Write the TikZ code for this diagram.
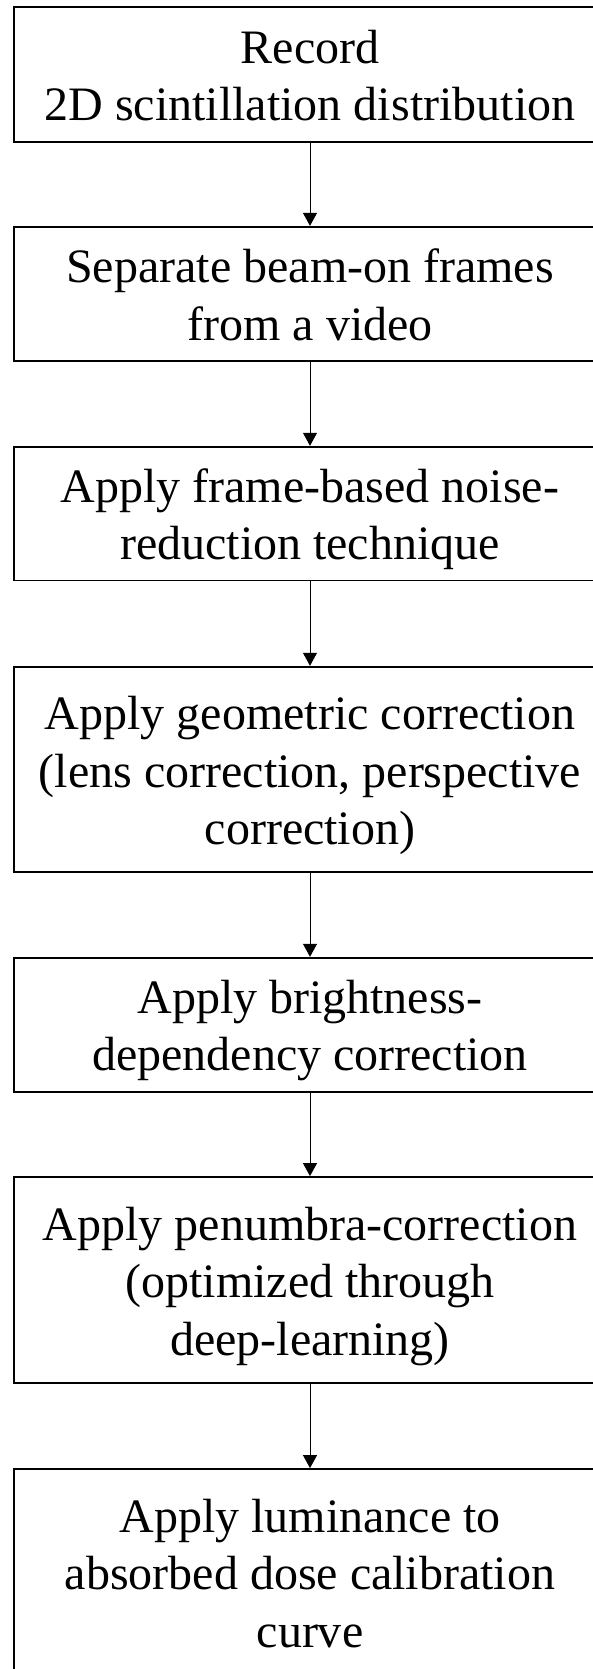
\documentclass[tikz,border=0pt]{standalone}
\usepackage{fontspec}
\setmainfont{Liberation Serif}
\usetikzlibrary{arrows.meta}

% Centered multi-line step text; #1 = depth below the first baseline
\newcommand{\flowlines}[2]{\raisebox{0pt}[35pt][#1]{\parbox[t]{590pt}{\centering\fontsize{48pt}{57.5pt}\selectfont #2}}}

\begin{document}
\begin{tikzpicture}[x=1pt,y=1pt,
  stepbox/.style={draw=black, line width=1.8pt, minimum width=592pt, inner sep=0pt},
  flow/.style={-{Triangle[length=13pt,width=14pt]}, line width=1pt, draw=black}]
\clip (0,0) rectangle (593,-1669);
\fill[white] (0,0) rectangle (593,-1669);

\node[stepbox, minimum height=134.4pt] (b1) at (310,-74.5)
  {\flowlines{57.5pt}{Record\\2D scintillation distribution}};
\node[stepbox, minimum height=134.3pt] (b2) at (310,-293.9)
  {\flowlines{57.5pt}{Separate beam-on frames\\from a video}};
\node[stepbox, minimum height=133.8pt] (b3) at (310,-513.6)
  {\flowlines{57.5pt}{Apply frame-based noise-\\reduction technique}};
\node[stepbox, minimum height=205.6pt] (b4) at (310,-769.5)
  {\flowlines{115pt}{Apply geometric correction\\(lens correction, perspective\\correction)}};
\node[stepbox, minimum height=134pt] (b5) at (310,-1024.7)
  {\flowlines{57.5pt}{Apply brightness-\\dependency correction}};
\node[stepbox, minimum height=206pt] (b6) at (310,-1280)
  {\flowlines{115pt}{Apply penumbra-correction\\(optimized through\\deep-learning)}};
\node[stepbox, minimum height=206pt] (b7) at (310,-1572)
  {\flowlines{115pt}{Apply luminance to\\absorbed dose calibration\\curve}};

\draw[flow] (b1.south) -- (b2.north);
\draw[flow] (b2.south) -- (b3.north);
\draw[flow] (b3.south) -- (b4.north);
\draw[flow] (b4.south) -- (b5.north);
\draw[flow] (b5.south) -- (b6.north);
\draw[flow] (b6.south) -- (b7.north);
\end{tikzpicture}
\end{document}
